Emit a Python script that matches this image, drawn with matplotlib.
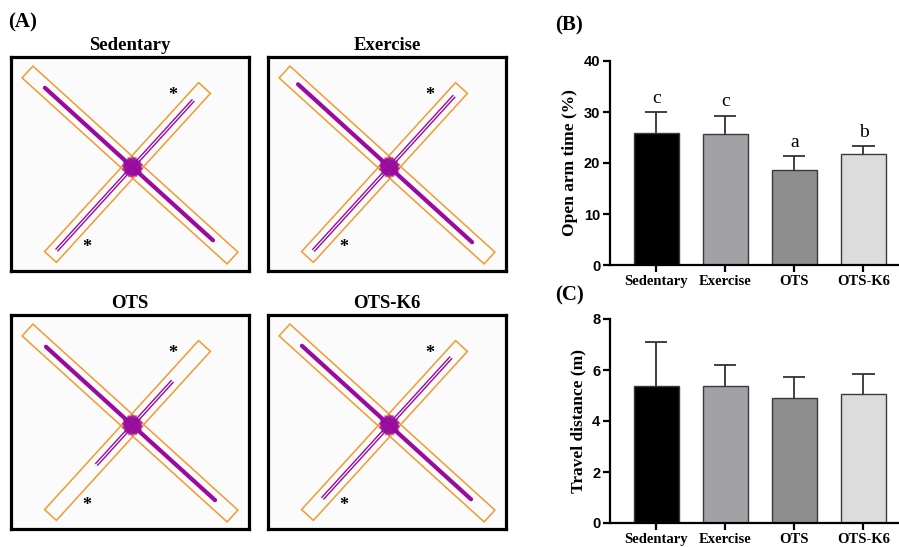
import numpy as np
import matplotlib.pyplot as plt
from matplotlib.patches import Polygon

# ---- data ----
groups = ['Sedentary', 'Exercise', 'OTS', 'OTS-K6']
bar_colors = ['#000000', '#a2a2a6', '#8e8e8e', '#dcdcdc']

open_arm_time = [25.9, 25.6, 18.6, 21.8]
open_arm_err = [4.1, 3.7, 2.8, 1.6]
open_arm_letters = ['c', 'c', 'a', 'b']

travel_dist = [5.37, 5.38, 4.91, 5.04]
travel_err = [1.74, 0.83, 0.82, 0.80]

# how far the tracks run along each arm (fraction of arm length)
closed_start = [0.085, 0.066, 0.09, 0.085]
closed_end = [0.905, 0.915, 0.915, 0.91]
open_start = [0.042, 0.04, 0.30, 0.10]
open_end = [0.925, 0.95, 0.79, 0.93]

SERIF = 'Liberation Serif'
SANS = 'Liberation Sans'
PURPLE = '#990a9e'
ORANGE = '#f29a32'

# maze geometry in box pixel coords (y down)
closed_p0 = np.array([16.5, 15.0])
closed_p1 = np.array([221.5, 201.0])
open_p0 = np.array([39.5, 200.0])
open_p1 = np.array([193.5, 31.0])
ARM_W = 16.0


def arm_polygon(p0, p1, w):
    d = (p1 - p0) / np.linalg.norm(p1 - p0)
    n = np.array([-d[1], d[0]]) * w / 2
    return np.array([p0 + n, p1 + n, p1 - n, p0 - n])


def draw_maze(ax, i):
    ax.set_facecolor('#fbfbfb')
    ax.set_xlim(0, 238)
    ax.set_ylim(214, 0)
    ax.set_xticks([])
    ax.set_yticks([])
    for s in ax.spines.values():
        s.set_linewidth(2.3)
        s.set_color('black')

    for p0, p1 in [(closed_p0, closed_p1), (open_p0, open_p1)]:
        ax.add_patch(Polygon(arm_polygon(p0, p1, ARM_W), closed=True, fill=False,
                             edgecolor=ORANGE, lw=1.1))

    # closed arm track (thick)
    a = closed_p0 + (closed_p1 - closed_p0) * closed_start[i]
    b = closed_p0 + (closed_p1 - closed_p0) * closed_end[i]
    ax.plot([a[0], b[0]], [a[1], b[1]], color=PURPLE, lw=3.0, solid_capstyle='round')

    # open arm track (thin, doubled)
    d = (open_p1 - open_p0) / np.linalg.norm(open_p1 - open_p0)
    n = np.array([-d[1], d[0]])
    a = open_p0 + (open_p1 - open_p0) * open_start[i]
    b = open_p0 + (open_p1 - open_p0) * open_end[i]
    for off in (-1.3, 1.3):
        ax.plot([a[0] + n[0] * off, b[0] + n[0] * off], [a[1] + n[1] * off, b[1] + n[1] * off],
                color=PURPLE, lw=1.0)

    # centre scribble
    A = np.column_stack([closed_p1 - closed_p0, open_p0 - open_p1])
    s = np.linalg.solve(A, open_p0 - closed_p0)
    c = closed_p0 + (closed_p1 - closed_p0) * s[0]
    for ang in np.deg2rad([0, 25, 50, 70]):
        r = np.array([[np.cos(ang), -np.sin(ang)], [np.sin(ang), np.cos(ang)]])
        sq = np.array([[-7.5, -6.5], [7.5, -6.5], [7.5, 6.5], [-7.5, 6.5]]) @ r.T + c
        ax.add_patch(Polygon(sq, closed=True, fill=True, facecolor=PURPLE, alpha=0.55,
                             edgecolor=PURPLE, lw=1.2))

    # open arms marked with asterisks
    for x, y in [(162, 38), (76, 191)]:
        ax.text(x, y, '*', fontsize=13, fontfamily=SERIF, fontweight='bold',
                ha='center', va='center')


def draw_bars(ax, vals, errs, ymax, step, ylabel, letters=None):
    x = np.arange(len(groups))
    vals = np.array(vals)
    errs = np.array(errs)
    ax.bar(x, vals, width=0.65, color=bar_colors, edgecolor='#3a3a3a', linewidth=1.0, zorder=2)
    ax.vlines(x, vals, vals + errs, color='#333333', lw=1.3, zorder=1)
    ax.hlines(vals + errs, x - 0.16, x + 0.16, color='#333333', lw=1.3, zorder=1)
    ax.set_xlim(-0.67, 3.5)
    ax.set_ylim(0, ymax)
    ax.set_yticks(np.arange(0, ymax + 0.01, step))
    ax.set_xticks(x)
    ax.set_xticklabels(groups, fontfamily=SERIF, fontweight='bold', fontsize=10.5)
    for lab in ax.get_yticklabels():
        lab.set_fontfamily(SANS)
        lab.set_fontweight('bold')
        lab.set_fontsize(10.5)
    ax.spines['top'].set_visible(False)
    ax.spines['right'].set_visible(False)
    ax.spines['left'].set_linewidth(1.6)
    ax.spines['bottom'].set_linewidth(1.6)
    ax.tick_params(axis='both', width=1.6, length=5, pad=2)
    ax.set_ylabel(ylabel, fontfamily=SERIF, fontweight='bold', fontsize=12.5, labelpad=4)
    ax.patch.set_alpha(0)
    if letters:
        for xi, v, e, t in zip(x, vals, errs, letters):
            ax.text(xi, v + e + 1.0, t, ha='center', va='bottom', fontfamily=SERIF, fontsize=14)


W, H = 899, 547
fig = plt.figure(figsize=(W / 100, H / 100), dpi=100)


def px_axes(x0, y0, x1, y1):
    return fig.add_axes([x0 / W, 1 - y1 / H, (x1 - x0) / W, (y1 - y0) / H])


boxes = [(11, 57, 249, 271), (268, 57, 506, 271), (11, 315, 249, 529), (268, 315, 506, 529)]
for i, (x0, y0, x1, y1) in enumerate(boxes):
    ax = px_axes(x0, y0, x1, y1)
    draw_maze(ax, i)
    fig.text((x0 + x1) / 2 / W, 1 - (y0 - 12) / H, groups[i], ha='center', va='center',
             fontfamily=SERIF, fontweight='bold', fontsize=13.5)

axB = px_axes(610, 61, 898, 265)
draw_bars(axB, open_arm_time, open_arm_err, 40, 10, 'Open arm time (%)', open_arm_letters)
axC = px_axes(610, 319, 898, 523)
draw_bars(axC, travel_dist, travel_err, 8, 2, 'Travel distance (m)')

for lab, x, y in [('(A)', 8, 22), ('(B)', 555, 25), ('(C)', 555, 295)]:
    fig.text(x / W, 1 - y / H, lab, ha='left', va='center', fontfamily=SERIF,
             fontweight='bold', fontsize=15)

fig.savefig('out.png', dpi=100)
